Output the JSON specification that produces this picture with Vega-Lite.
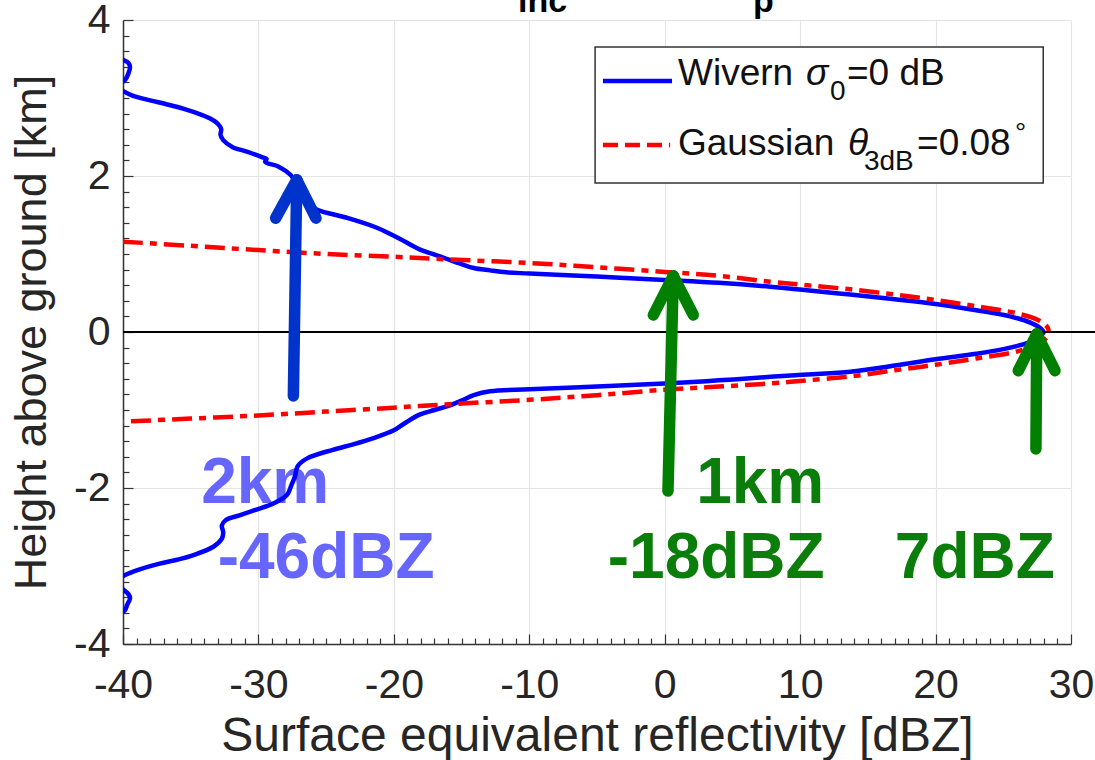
{
  "$schema": "https://vega.github.io/schema/vega-lite/v6.json",
  "width": 948,
  "height": 624,
  "autosize": {"type": "none"},
  "padding": {"left": 123, "top": 20, "right": 24, "bottom": 116},
  "background": "white",
  "config": {"view": {"stroke": null}, "font": "Liberation Sans"},
  "datasets": {
    "wivern": [
      {"i": 1, "x": -40.6, "y": 3.56}, {"i": 2, "x": -40.1, "y": 3.5}, {"i": 3, "x": -39.6, "y": 3.45}, {"i": 4, "x": -39.48, "y": 3.4},
      {"i": 5, "x": -39.6, "y": 3.316}, {"i": 6, "x": -39.85, "y": 3.23}, {"i": 7, "x": -40.15, "y": 3.196}, {"i": 8, "x": -40.6, "y": 3.15},
      {"i": 9, "x": -40.1, "y": 3.1}, {"i": 10, "x": -39.3, "y": 3.03}, {"i": 11, "x": -38.0, "y": 2.97}, {"i": 12, "x": -36.8, "y": 2.92},
      {"i": 13, "x": -35.5, "y": 2.86}, {"i": 14, "x": -34.3, "y": 2.79}, {"i": 15, "x": -33.5, "y": 2.73}, {"i": 16, "x": -33.0, "y": 2.67},
      {"i": 17, "x": -32.75, "y": 2.6}, {"i": 18, "x": -32.8, "y": 2.53}, {"i": 19, "x": -32.6, "y": 2.46}, {"i": 20, "x": -31.9, "y": 2.37},
      {"i": 21, "x": -30.8, "y": 2.31}, {"i": 22, "x": -29.7, "y": 2.24}, {"i": 23, "x": -29.4, "y": 2.22}, {"i": 24, "x": -29.5, "y": 2.18},
      {"i": 25, "x": -28.5, "y": 2.12}, {"i": 26, "x": -27.6, "y": 2.01}, {"i": 27, "x": -27.1, "y": 1.88}, {"i": 28, "x": -26.5, "y": 1.69},
      {"i": 29, "x": -25.7, "y": 1.57}, {"i": 30, "x": -24.5, "y": 1.51}, {"i": 31, "x": -23.2, "y": 1.45}, {"i": 32, "x": -21.3, "y": 1.34},
      {"i": 33, "x": -20.3, "y": 1.26}, {"i": 34, "x": -19.5, "y": 1.19}, {"i": 35, "x": -18.1, "y": 1.06}, {"i": 36, "x": -16.6, "y": 0.97},
      {"i": 37, "x": -15.0, "y": 0.87}, {"i": 38, "x": -14.1, "y": 0.82}, {"i": 39, "x": -12.9, "y": 0.79}, {"i": 40, "x": -11.7, "y": 0.765},
      {"i": 41, "x": -10, "y": 0.75}, {"i": 42, "x": -5, "y": 0.71}, {"i": 43, "x": 0, "y": 0.667}, {"i": 44, "x": 4, "y": 0.63},
      {"i": 45, "x": 7.8, "y": 0.58}, {"i": 46, "x": 10.5, "y": 0.535}, {"i": 47, "x": 13.7, "y": 0.48}, {"i": 48, "x": 17, "y": 0.42},
      {"i": 49, "x": 20, "y": 0.36}, {"i": 50, "x": 23, "y": 0.28}, {"i": 51, "x": 25.5, "y": 0.2}, {"i": 52, "x": 27.0, "y": 0.12},
      {"i": 53, "x": 27.8, "y": 0.04}, {"i": 54, "x": 27.97, "y": 0.0}, {"i": 55, "x": 27.7, "y": -0.06}, {"i": 56, "x": 26.8, "y": -0.14},
      {"i": 57, "x": 25, "y": -0.22}, {"i": 58, "x": 23, "y": -0.28}, {"i": 59, "x": 20, "y": -0.35}, {"i": 60, "x": 17, "y": -0.43},
      {"i": 61, "x": 13.7, "y": -0.51}, {"i": 62, "x": 10.5, "y": -0.545}, {"i": 63, "x": 7.8, "y": -0.575}, {"i": 64, "x": 4, "y": -0.62},
      {"i": 65, "x": 0, "y": -0.66}, {"i": 66, "x": -5, "y": -0.7}, {"i": 67, "x": -10, "y": -0.735}, {"i": 68, "x": -12.9, "y": -0.76},
      {"i": 69, "x": -14.1, "y": -0.81}, {"i": 70, "x": -15.0, "y": -0.88}, {"i": 71, "x": -15.85, "y": -0.94}, {"i": 72, "x": -17, "y": -1.0},
      {"i": 73, "x": -18.1, "y": -1.06}, {"i": 74, "x": -19.2, "y": -1.17}, {"i": 75, "x": -20.0, "y": -1.26}, {"i": 76, "x": -21.5, "y": -1.36},
      {"i": 77, "x": -23.0, "y": -1.44}, {"i": 78, "x": -24.5, "y": -1.51}, {"i": 79, "x": -26.4, "y": -1.62}, {"i": 80, "x": -27.1, "y": -1.72},
      {"i": 81, "x": -27.3, "y": -1.85}, {"i": 82, "x": -27.6, "y": -1.98}, {"i": 83, "x": -27.9, "y": -2.09}, {"i": 84, "x": -28.9, "y": -2.2},
      {"i": 85, "x": -30.2, "y": -2.28}, {"i": 86, "x": -31.4, "y": -2.35}, {"i": 87, "x": -32.4, "y": -2.41}, {"i": 88, "x": -32.7, "y": -2.48},
      {"i": 89, "x": -32.6, "y": -2.57}, {"i": 90, "x": -32.7, "y": -2.65}, {"i": 91, "x": -33.3, "y": -2.75}, {"i": 92, "x": -34.8, "y": -2.86},
      {"i": 93, "x": -36.0, "y": -2.92}, {"i": 94, "x": -37.3, "y": -2.97}, {"i": 95, "x": -39.2, "y": -3.07}, {"i": 96, "x": -40.1, "y": -3.14},
      {"i": 97, "x": -40.6, "y": -3.21}, {"i": 98, "x": -40.1, "y": -3.286}, {"i": 99, "x": -39.6, "y": -3.36}, {"i": 100, "x": -39.48, "y": -3.414},
      {"i": 101, "x": -39.7, "y": -3.5}, {"i": 102, "x": -39.85, "y": -3.564}, {"i": 103, "x": -40.6, "y": -3.65}
    ],
    "gauss": [
      {"i": 1, "x": -40, "y": 1.158}, {"i": 2, "x": -35, "y": 1.105}, {"i": 3, "x": -30, "y": 1.05}, {"i": 4, "x": -25, "y": 1.0},
      {"i": 5, "x": -20, "y": 0.965}, {"i": 6, "x": -15.85, "y": 0.93}, {"i": 7, "x": -10, "y": 0.885}, {"i": 8, "x": -5, "y": 0.83},
      {"i": 9, "x": 0, "y": 0.77}, {"i": 10, "x": 4, "y": 0.72}, {"i": 11, "x": 7.8, "y": 0.645}, {"i": 12, "x": 10.5, "y": 0.6},
      {"i": 13, "x": 13.7, "y": 0.547}, {"i": 14, "x": 17, "y": 0.48}, {"i": 15, "x": 20, "y": 0.41}, {"i": 16, "x": 23, "y": 0.33},
      {"i": 17, "x": 26, "y": 0.24}, {"i": 18, "x": 27.6, "y": 0.15}, {"i": 19, "x": 28.3, "y": 0.05}, {"i": 20, "x": 28.35, "y": 0.0},
      {"i": 21, "x": 28.3, "y": -0.05}, {"i": 22, "x": 27.6, "y": -0.15}, {"i": 23, "x": 26, "y": -0.25}, {"i": 24, "x": 23, "y": -0.34},
      {"i": 25, "x": 20, "y": -0.42}, {"i": 26, "x": 17, "y": -0.49}, {"i": 27, "x": 13.7, "y": -0.57}, {"i": 28, "x": 10.5, "y": -0.62},
      {"i": 29, "x": 7.8, "y": -0.66}, {"i": 30, "x": 4, "y": -0.7}, {"i": 31, "x": 0, "y": -0.74}, {"i": 32, "x": -5, "y": -0.81},
      {"i": 33, "x": -10, "y": -0.87}, {"i": 34, "x": -15.85, "y": -0.925}, {"i": 35, "x": -20, "y": -0.97}, {"i": 36, "x": -25, "y": -1.02},
      {"i": 37, "x": -30, "y": -1.07}, {"i": 38, "x": -35, "y": -1.11}, {"i": 39, "x": -40, "y": -1.15}
    ],
    "notes": [
      {"x": -29.5, "y": -2.19, "text": "2km", "arrow": "2 km"},
      {"x": -25.0, "y": -3.154, "text": "-46dBZ", "arrow": "2 km"},
      {"x": 7.05, "y": -2.19, "text": "1km", "arrow": "1 km"},
      {"x": 3.8, "y": -3.154, "text": "-18dBZ", "arrow": "1 km"},
      {"x": 22.9, "y": -3.154, "text": "7dBZ", "arrow": "surface"}
    ],
    "arrows": [
      {"arrow": "2 km", "x": -27.42, "y": -0.82, "x2": -27.17, "y2": 1.95},
      {"arrow": "2 km", "x": -28.73, "y": 1.46, "x2": -27.17, "y2": 1.95},
      {"arrow": "2 km", "x": -25.75, "y": 1.46, "x2": -27.17, "y2": 1.95},
      {"arrow": "1 km", "x": 0.24, "y": -2.04, "x2": 0.63, "y2": 0.718},
      {"arrow": "1 km", "x": -0.84, "y": 0.218, "x2": 0.63, "y2": 0.718},
      {"arrow": "1 km", "x": 2.11, "y": 0.218, "x2": 0.63, "y2": 0.718},
      {"arrow": "surface", "x": 27.41, "y": -1.5, "x2": 27.47, "y2": -0.026},
      {"arrow": "surface", "x": 26.11, "y": -0.496, "x2": 27.47, "y2": -0.026},
      {"arrow": "surface", "x": 28.82, "y": -0.496, "x2": 27.47, "y2": -0.026}
    ],
    "legendText": [
      {"x": 0.98, "y": 3.167, "text": "Wivern"},
      {"x": 13.46, "y": 3.167, "text": "=0 dB"},
      {"x": 0.98, "y": 2.269, "text": "Gaussian"},
      {"x": 18.63, "y": 2.269, "text": "=0.08"}
    ],
    "legendGreek": [
      {"x": 10.43, "y": 3.167, "text": "σ"},
      {"x": 13.53, "y": 2.269, "text": "θ"}
    ],
    "legendSub": [
      {"x": 12.2, "y": 2.974, "text": "0"},
      {"x": 14.71, "y": 2.077, "text": "3dB"},
      {"x": 25.86, "y": 2.44, "text": "°"}
    ],
    "titleBits": [
      {"x": -10.83, "y": 4.103, "text": "inc"},
      {"x": 6.52, "y": 4.103, "text": "p"}
    ]
  },
  "encoding": {
    "x": {
      "field": "x", "type": "quantitative",
      "scale": {"domain": [-40, 30], "nice": false, "zero": false},
      "axis": {
        "title": "Surface equivalent reflectivity [dBZ]",
        "values": [-40,-39,-38,-37,-36,-35,-34,-33,-32,-31,-30,-29,-28,-27,-26,-25,-24,-23,-22,-21,-20,-19,-18,-17,-16,-15,-14,-13,-12,-11,-10,-9,-8,-7,-6,-5,-4,-3,-2,-1,0,1,2,3,4,5,6,7,8,9,10,11,12,13,14,15,16,17,18,19,20,21,22,23,24,25,26,27,28,29,30],
        "labelExpr": "datum.value % 10 === 0 ? toString(datum.value) : ''",
        "labelFont": "Liberation Sans", "labelFontSize": 41, "labelColor": "#262626",
        "labelPadding": 31, "labelOverlap": false, "labelFlush": false,
        "tickSize": {"condition": {"test": "datum.value % 10 === 0", "value": -10}, "value": -6},
        "tickColor": "#333333", "tickWidth": 1.2,
        "domainColor": "#333333", "domainWidth": 1.5,
        "grid": true, "gridColor": "#e4e4e4", "gridWidth": 1.2,
        "gridOpacity": {"condition": {"test": "datum.value % 10 === 0", "value": 1}, "value": 0},
        "titleFont": "Liberation Sans", "titleFontSize": 48, "titleFontWeight": "normal", "titleColor": "#262626", "titlePadding": 3
      }
    },
    "y": {
      "field": "y", "type": "quantitative",
      "scale": {"domain": [-4, 4], "nice": false, "zero": false},
      "axis": {
        "title": "Height above ground [km]",
        "values": [-4,-3.8,-3.6,-3.4,-3.2,-3,-2.8,-2.6,-2.4,-2.2,-2,-1.8,-1.6,-1.4,-1.2,-1,-0.8,-0.6,-0.4,-0.2,0,0.2,0.4,0.6,0.8,1,1.2,1.4,1.6,1.8,2,2.2,2.4,2.6,2.8,3,3.2,3.4,3.6,3.8,4],
        "labelExpr": "datum.value % 2 === 0 ? toString(datum.value) : ''",
        "labelFont": "Liberation Sans", "labelFontSize": 41, "labelColor": "#262626",
        "labelPadding": 23, "labelOverlap": false, "labelFlush": false,
        "tickSize": {"condition": {"test": "datum.value % 2 === 0", "value": -10}, "value": -6},
        "tickColor": "#333333", "tickWidth": 1.2,
        "domainColor": "#333333", "domainWidth": 1.5,
        "grid": true, "gridColor": "#e4e4e4", "gridWidth": 1.2,
        "gridOpacity": {"condition": {"test": "datum.value % 2 === 0", "value": 1}, "value": 0},
        "titleFont": "Liberation Sans", "titleFontSize": 45, "titleFontWeight": "normal", "titleColor": "#262626", "titlePadding": 19
      }
    }
  },
  "layer": [
    {
      "data": {"name": "notes"},
      "mark": {"type": "text", "font": "Liberation Sans", "fontSize": 64, "fontWeight": "bold", "align": "center", "baseline": "alphabetic", "clip": false},
      "encoding": {
        "text": {"field": "text"},
        "fill": {"field": "arrow", "type": "nominal", "scale": {"domain": ["2 km", "1 km", "surface"], "range": ["#6666ff", "#0b7d0b", "#0b7d0b"]}, "legend": null}
      }
    },
    {
      "data": {"name": "wivern"},
      "mark": {"type": "line", "color": "#0000ff", "strokeWidth": 4.5, "clip": true, "strokeJoin": "round", "interpolate": "catmull-rom"},
      "encoding": {"order": {"field": "i", "type": "quantitative"}}
    },
    {
      "data": {"name": "gauss"},
      "mark": {"type": "line", "color": "#ff0000", "strokeWidth": 4.5, "strokeDash": [20, 7, 7, 7], "clip": true, "interpolate": "catmull-rom"},
      "encoding": {"order": {"field": "i", "type": "quantitative"}}
    },
    {
      "data": {"values": [{"x": -40, "x2": 31.8, "y": 0}]},
      "mark": {"type": "rule", "color": "#000000", "strokeWidth": 2, "clip": false},
      "encoding": {"x2": {"field": "x2"}}
    },
    {
      "data": {"values": [{"x": -5.14, "x2": 27.95, "y": 3.654, "y2": 1.91}]},
      "mark": {"type": "rect", "fill": "white", "stroke": "#333333", "strokeWidth": 1.5},
      "encoding": {"x2": {"field": "x2"}, "y2": {"field": "y2"}}
    },
    {
      "data": {"values": [{"series": "Wivern", "x": -4.56, "x2": 0.54, "y": 3.218}]},
      "mark": {"type": "rule", "color": "#0000ff", "strokeWidth": 4.5},
      "encoding": {"x2": {"field": "x2"}}
    },
    {
      "data": {"values": [{"series": "Gaussian", "x": -4.56, "x2": 0.4, "y": 2.397}]},
      "mark": {"type": "rule", "color": "#ff0000", "strokeWidth": 4.5, "strokeDash": [15, 7]},
      "encoding": {"x2": {"field": "x2"}}
    },
    {
      "data": {"name": "legendText"},
      "mark": {"type": "text", "font": "Liberation Sans", "fontSize": 37, "align": "left", "baseline": "alphabetic", "color": "#111111"},
      "encoding": {"text": {"field": "text"}}
    },
    {
      "data": {"name": "legendGreek"},
      "mark": {"type": "text", "font": "Liberation Sans", "fontSize": 37, "fontStyle": "italic", "align": "left", "baseline": "alphabetic", "color": "#111111"},
      "encoding": {"text": {"field": "text"}}
    },
    {
      "data": {"name": "legendSub"},
      "mark": {"type": "text", "font": "Liberation Sans", "fontSize": 28, "align": "left", "baseline": "alphabetic", "color": "#111111"},
      "encoding": {"text": {"field": "text"}}
    },
    {
      "data": {"name": "titleBits"},
      "mark": {"type": "text", "font": "Liberation Sans", "fontSize": 34, "fontWeight": "bold", "align": "left", "baseline": "alphabetic", "color": "#000000", "clip": false},
      "encoding": {"text": {"field": "text"}}
    },
    {
      "data": {"name": "arrows"},
      "mark": {"type": "rule", "strokeWidth": 11.5, "strokeCap": "round", "clip": false},
      "encoding": {
        "x2": {"field": "x2"}, "y2": {"field": "y2"},
        "stroke": {"field": "arrow", "type": "nominal", "scale": {"domain": ["2 km", "1 km", "surface"], "range": ["#0033cc", "#007f00", "#007f00"]}, "legend": null}
      }
    }
  ]
}
